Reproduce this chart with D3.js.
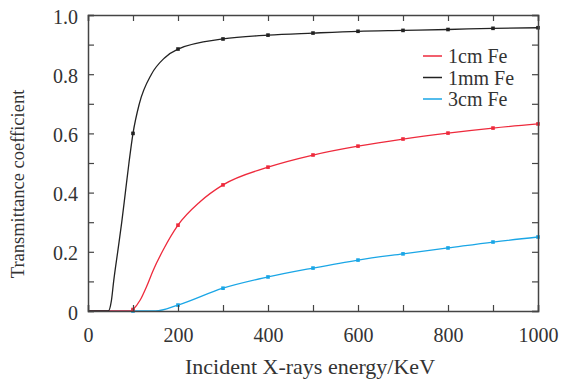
<!DOCTYPE html>
<html>
<head>
<meta charset="utf-8">
<script src="https://cdn.jsdelivr.net/npm/d3@7"></script>
<style>
  body { margin: 0; background: #fff; }
  svg text { fill: #333; }
</style>
</head>
<body>
<svg id="chart" width="561" height="385"></svg>
<script>
// marker energies (KeV)
var markerE = [100, 200, 300, 400, 500, 600, 700, 800, 900, 1000];

// marker values
var fe1mmMarks = [0.60, 0.885, 0.919, 0.932, 0.939, 0.945, 0.948, 0.951, 0.955, 0.957];
var fe1cmMarks = [0.005, 0.29, 0.426, 0.486, 0.527, 0.557, 0.581, 0.601, 0.618, 0.632];
var fe3cmMarks = [0.0, 0.02, 0.077, 0.115, 0.145, 0.172, 0.193, 0.213, 0.233, 0.25];

// extra curve points (energy, value)
var fe1mmLead = [[0, 0], [45, 0], [52, 0.035], [57, 0.1], [66, 0.2], [75, 0.3], [83, 0.4], [91, 0.5]];
var fe1mmMid = [[114, 0.7], [141, 0.8], [170, 0.855]];
var fe1cmLead = [[0, 0], [96, 0]];
var fe1cmMid = [[116, 0.037], [130, 0.082], [145, 0.138], [167, 0.206], [249, 0.369]];
var fe3cmLead = [[0, 0], [150, 0]];

var seriesNames = ["1cm Fe", "1mm Fe", "3cm Fe"];
var seriesColors = ["#ee2a3c", "#222222", "#1aa6e6"];

var xTicks = [0, 200, 400, 600, 800, 1000];
var yTicks = [0, 0.2, 0.4, 0.6, 0.8, 1.0];

var serif = "'Liberation Serif', 'Times New Roman', 'DejaVu Serif', serif";

var svg = d3.select("#chart");
var margin = {left: 88, right: 23, top: 15, bottom: 74};
var W = 561 - margin.left - margin.right;
var H = 385 - margin.top - margin.bottom;

var x = d3.scaleLinear().domain([0, 1000]).range([0, W]);
var y = d3.scaleLinear().domain([0, 1]).range([H, 0]);

var g = svg.append("g").attr("transform", "translate(" + margin.left + "," + margin.top + ")");

function build(lead, mid, marks) {
  var pts = lead.slice();
  markerE.forEach(function(e, i) { pts.push([e, marks[i]]); });
  mid.forEach(function(p) { pts.push(p); });
  pts.sort(function(a, b) { return a[0] - b[0]; });
  return pts;
}

var curves = [
  build(fe1cmLead, fe1cmMid, fe1cmMarks),
  build(fe1mmLead, fe1mmMid, fe1mmMarks),
  build(fe3cmLead, [], fe3cmMarks)
];
var marks = [fe1cmMarks, fe1mmMarks, fe3cmMarks];

var line = d3.line()
  .x(function(d) { return x(d[0]); })
  .y(function(d) { return y(d[1]); })
  .curve(d3.curveMonotoneX);

// draw order: blue, red, black
[2, 0, 1].forEach(function(i) {
  g.append("path")
    .datum(curves[i])
    .attr("fill", "none")
    .attr("stroke", seriesColors[i])
    .attr("stroke-width", 1.3)
    .attr("d", line);

  g.selectAll(".m" + i)
    .data(markerE)
    .enter().append("rect")
    .attr("class", "m" + i)
    .attr("x", function(d) { return x(d) - 1.8; })
    .attr("y", function(d, j) { return y(marks[i][j]) - 1.8; })
    .attr("width", 3.6)
    .attr("height", 3.6)
    .attr("fill", seriesColors[i]);
});

// axes, ticks inward on all four sides
var axisColor = "#444";
var minorX = d3.range(0, 1001, 100);
var minorY = d3.range(0, 1.001, 0.1);

var axBottom = d3.axisBottom(x).tickValues(minorX).tickSize(-6)
  .tickFormat(function(d) { return xTicks.indexOf(d) >= 0 ? d : ""; });
var axTop = d3.axisTop(x).tickValues(minorX).tickSize(-6).tickFormat("");
var axLeft = d3.axisLeft(y).tickValues(minorY).tickSize(-6)
  .tickFormat(function(d) {
    var r = Math.round(d * 10) / 10;
    if (r === 0) return "0";
    return yTicks.some(function(t) { return Math.abs(t - r) < 1e-6; }) ? r.toFixed(1) : "";
  });
var axRight = d3.axisRight(y).tickValues(minorY).tickSize(-6).tickFormat("");

function styleAxis(sel) {
  sel.attr("font-family", serif);
  sel.select(".domain").attr("stroke", axisColor).attr("stroke-width", 1.5);
  sel.selectAll(".tick line").attr("stroke", axisColor).attr("stroke-width", 1.2);
  sel.selectAll(".tick text").attr("fill", "#333").attr("font-size", 20);
}

g.append("g").attr("transform", "translate(0," + H + ")").call(axBottom).call(styleAxis)
  .selectAll(".tick text").attr("y", 31).attr("dy", 0);
g.append("g").call(axTop).call(styleAxis);
g.append("g").call(axLeft).call(styleAxis)
  .selectAll(".tick text").attr("x", -10).attr("dy", "0.4em");
g.append("g").attr("transform", "translate(" + W + ",0)").call(axRight).call(styleAxis);

// axis titles
svg.append("text")
  .attr("x", margin.left + W / 2 - 3)
  .attr("y", 374)
  .attr("text-anchor", "middle")
  .attr("font-family", serif)
  .attr("font-size", 22)
  .text("Incident X-rays energy/KeV");

svg.append("text")
  .attr("transform", "translate(24,184) rotate(-90)")
  .attr("text-anchor", "middle")
  .attr("font-family", serif)
  .attr("font-size", 18.5)
  .text("Transmittance coefficient");

// legend
var legend = g.append("g").attr("transform", "translate(" + (423 - margin.left) + "," + (56 - margin.top) + ")");
seriesNames.forEach(function(name, i) {
  var row = legend.append("g").attr("transform", "translate(0," + (i * 21.5) + ")");
  row.append("line")
    .attr("x1", 0).attr("x2", 19)
    .attr("stroke", seriesColors[i]).attr("stroke-width", 1.5);
  row.append("text")
    .attr("x", 25).attr("dy", "0.35em")
    .attr("font-family", serif)
    .attr("font-size", 20)
    .text(name);
});
</script>
</body>
</html>
